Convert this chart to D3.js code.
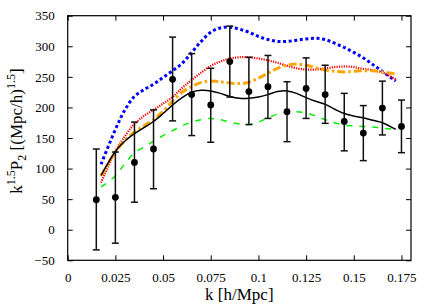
<!DOCTYPE html>
<html>
<head>
<meta charset="utf-8">
<script src="https://cdn.jsdelivr.net/npm/d3@7"></script>
<style>
  html, body { margin: 0; padding: 0; background: #fff; }
</style>
</head>
<body>
<div id="chart"></div>
<script>
// Measured band powers (points with error bars)
const kData = [0.015, 0.025, 0.035, 0.045, 0.055, 0.065, 0.075, 0.085, 0.095,
  0.105, 0.115, 0.125, 0.135, 0.145, 0.155, 0.165, 0.175];
const pData = [49, 53, 110, 132, 246, 221, 204, 275, 226, 234, 193, 231, 221, 177, 158, 199, 169];
const errLow = [-33, -22, 45, 67, 178, 154, 143, 217, 172, 182, 144, 182, 174, 129, 113, 155, 126];
const errHigh = [132, 127, 176, 196, 315, 288, 264, 333, 282, 285, 242, 281, 269, 223, 203, 243, 212];

// Model curves, sampled on a common k grid
const kModel = [0.0175, 0.025, 0.03, 0.035, 0.04, 0.045, 0.05, 0.055, 0.06, 0.065, 0.07,
  0.075, 0.08, 0.085, 0.09, 0.095, 0.1, 0.105, 0.11, 0.115, 0.12, 0.125, 0.13, 0.135,
  0.14, 0.145, 0.15, 0.155, 0.16, 0.165, 0.172];
const blueModel = [107, 164, 196, 218, 229, 238, 249, 260, 272, 290, 308, 323, 330, 331,
  328, 323, 316, 311, 308, 308, 310, 312, 313, 311, 305, 298, 290, 281, 270, 259, 243];
const redModel = [77, 128, 153, 173, 186, 196, 206, 217, 232, 245, 257, 268, 275, 280,
  282, 282, 280, 277, 273, 268, 264, 262, 262, 264, 266, 267, 266, 263, 261, 257, 246];
const orangeModel = [88, 127, 146, 160, 170, 180, 194, 210, 225, 234, 241, 243, 242, 240,
  239, 241, 248, 256, 264, 269, 271, 269, 265, 261, 259, 258, 259, 260, 260, 258, 255];
const blackModel = [89, 128, 145, 157, 167, 177, 190, 204, 216, 225, 228, 227, 223, 218,
  215, 215, 217, 221, 226, 227, 223, 216, 210, 205, 197, 190, 186, 183, 179, 175, 164];
const greenModel = [70, 88, 108, 126, 135, 145, 154, 162, 170, 176, 180, 182, 180, 176,
  173, 172, 176, 183, 189, 192, 193, 191, 186, 180, 175, 171, 170, 169, 168, 166, 164];

// Axis ticks
const xTicks = [0, 0.025, 0.05, 0.075, 0.1, 0.125, 0.15, 0.175];
const xTickLabels = ['0', '0.025', '0.05', '0.075', '0.1', '0.125', '0.15', '0.175'];
const yTicks = [-50, 0, 50, 100, 150, 200, 250, 300, 350];

const width = 436;
const height = 305;
const marginLeft = 67.7;
const marginRight = 25;
const marginTop = 15.7;
const marginBottom = 44.7;
const chartWidth = width - marginLeft - marginRight;
const chartHeight = height - marginTop - marginBottom;
const fontFamily = '"Liberation Serif", "DejaVu Serif", serif';

const svg = d3.select('#chart')
  .append('svg')
  .attr('width', width)
  .attr('height', height)
  .style('display', 'block');

const g = svg.append('g')
  .attr('transform', `translate(${marginLeft},${marginTop})`);

const x = d3.scaleLinear().domain([0, 0.18]).range([0, chartWidth]);
const y = d3.scaleLinear().domain([-50, 350]).range([chartHeight, 0]);

// Model curves
const line = d3.line()
  .x(d => x(d[0]))
  .y(d => y(d[1]))
  .curve(d3.curveCatmullRom.alpha(0.5));

const curves = [
  { values: blueModel, color: '#0000ff', width: 3, dash: '3 2.6' },
  { values: redModel, color: '#ff0000', width: 2.2, dash: '1.2 1.2' },
  { values: orangeModel, color: '#ffa500', width: 3, dash: '8 3 2.5 3' },
  { values: blackModel, color: '#000000', width: 1.5, dash: null },
  { values: greenModel, color: '#00ee00', width: 1.5, dash: '6 7' }
];

curves.forEach(c => {
  g.append('path')
    .datum(kModel.map((k, i) => [k, c.values[i]]))
    .attr('fill', 'none')
    .attr('stroke', c.color)
    .attr('stroke-width', c.width)
    .attr('stroke-dasharray', c.dash)
    .attr('d', line);
});

// Error bars and points
const points = kData.map((k, i) => ({ k, p: pData[i], lo: errLow[i], hi: errHigh[i] }));
const capHalf = 3.5;

const bars = g.append('g')
  .attr('stroke', '#111')
  .attr('stroke-width', 1.5);

bars.selectAll('.bar')
  .data(points)
  .join('line')
  .attr('x1', d => x(d.k))
  .attr('x2', d => x(d.k))
  .attr('y1', d => y(d.lo))
  .attr('y2', d => y(d.hi));

bars.selectAll('.cap-hi')
  .data(points)
  .join('line')
  .attr('x1', d => x(d.k) - capHalf)
  .attr('x2', d => x(d.k) + capHalf)
  .attr('y1', d => y(d.hi))
  .attr('y2', d => y(d.hi));

bars.selectAll('.cap-lo')
  .data(points)
  .join('line')
  .attr('x1', d => x(d.k) - capHalf)
  .attr('x2', d => x(d.k) + capHalf)
  .attr('y1', d => y(d.lo))
  .attr('y2', d => y(d.lo));

g.selectAll('.dot')
  .data(points)
  .join('circle')
  .attr('cx', d => x(d.k))
  .attr('cy', d => y(d.p))
  .attr('r', 3.4)
  .attr('fill', '#000');

// Axes: ticks point inward on all four sides
const tickLen = 5;
const styleAxis = sel => {
  sel.select('.domain').remove();
  sel.selectAll('line').attr('stroke', '#000').attr('stroke-width', 1);
  sel.selectAll('text')
    .style('font-family', fontFamily)
    .style('font-size', '13px')
    .attr('fill', '#000');
};

g.append('g')
  .attr('transform', `translate(0,${chartHeight})`)
  .call(d3.axisBottom(x).tickValues(xTicks).tickSize(-tickLen).tickPadding(12)
    .tickFormat((d, i) => xTickLabels[i]))
  .call(styleAxis);

g.append('g')
  .call(d3.axisTop(x).tickValues(xTicks).tickSize(-tickLen).tickFormat(''))
  .call(styleAxis);

g.append('g')
  .call(d3.axisLeft(y).tickValues(yTicks).tickSize(-tickLen).tickPadding(13))
  .call(styleAxis);

g.append('g')
  .attr('transform', `translate(${chartWidth},0)`)
  .call(d3.axisRight(y).tickValues(yTicks).tickSize(-tickLen).tickFormat(''))
  .call(styleAxis);

// Frame
g.append('rect')
  .attr('x', 0)
  .attr('y', 0)
  .attr('width', chartWidth)
  .attr('height', chartHeight)
  .attr('fill', 'none')
  .attr('stroke', '#000')
  .attr('stroke-width', 1.2);

// X axis label
svg.append('text')
  .attr('x', marginLeft + chartWidth / 2)
  .attr('y', 300)
  .attr('text-anchor', 'middle')
  .style('font-family', fontFamily)
  .style('font-size', '17px')
  .text('k [h/Mpc]');

// Y axis label with super/subscripts, centred by its measured box
const yLabel = svg.append('text')
  .style('font-family', fontFamily)
  .style('font-size', '17px');

yLabel.append('tspan').text('k');
yLabel.append('tspan').attr('dy', -7).style('font-size', '12px').text('1.5');
yLabel.append('tspan').attr('dy', 7).text('P');
yLabel.append('tspan').attr('dy', 4).style('font-size', '12px').text('2');
yLabel.append('tspan').attr('dy', -4).text(' [(Mpc/h)');
yLabel.append('tspan').attr('dy', -7).style('font-size', '12px').text('1.5');
yLabel.append('tspan').attr('dy', 7).text(']');

const box = yLabel.node().getBBox();
yLabel.attr('transform', `translate(22,${131 + box.x + box.width / 2}) rotate(-90)`)
  .attr('x', -box.x - box.width)
  .attr('x', null);
yLabel.attr('transform', `translate(22,${131}) rotate(-90) translate(${-(box.x + box.width / 2)},0)`);
</script>
</body>
</html>
